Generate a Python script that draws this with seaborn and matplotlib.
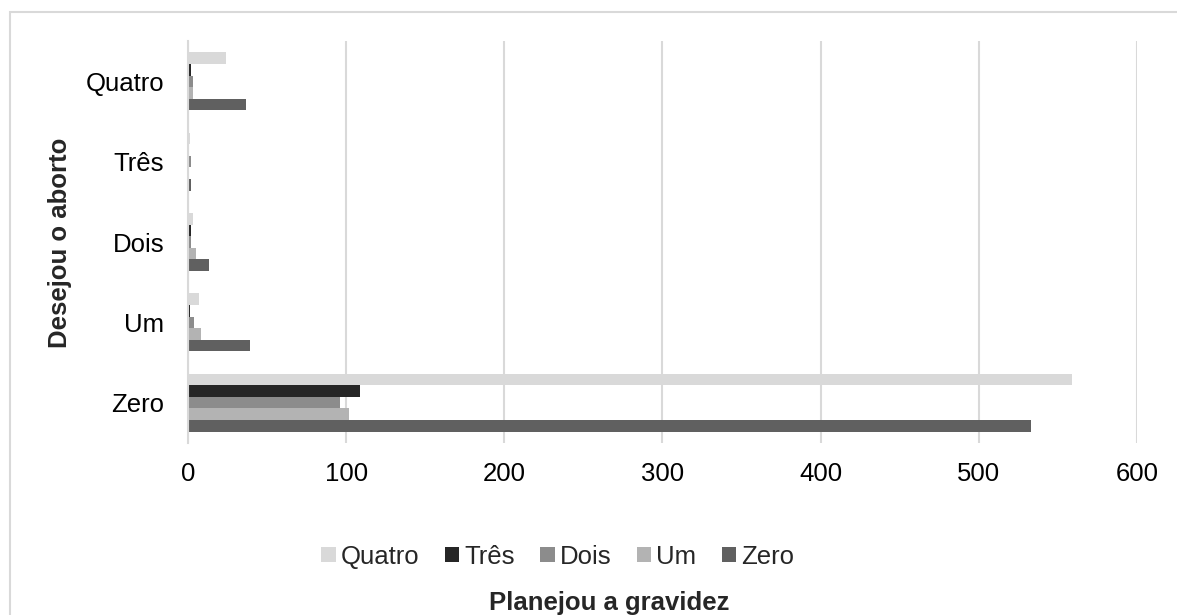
import pandas as pd
import seaborn as sns
import matplotlib.pyplot as plt
from matplotlib.patches import Rectangle

# Dados
categorias = ['Quatro', 'Três', 'Dois', 'Um', 'Zero']   # Desejou o aborto
series = ['Quatro', 'Três', 'Dois', 'Um', 'Zero']       # Planejou a gravidez
v_quatro = [24, 1, 3, 7, 559]
v_tres = [2, 0, 2, 1, 109]
v_dois = [3, 2, 2, 4, 96]
v_um = [3, 0, 5, 8, 102]
v_zero = [37, 2, 13, 39, 533]
xticks = [0, 100, 200, 300, 400, 500, 600]

cores = {'Quatro': '#d9d9d9', 'Três': '#262626', 'Dois': '#8c8c8c',
         'Um': '#b3b3b3', 'Zero': '#606060'}

valores = {'Quatro': v_quatro, 'Três': v_tres, 'Dois': v_dois,
           'Um': v_um, 'Zero': v_zero}
linhas = []
for s in series:
    for c, v in zip(categorias, valores[s]):
        linhas.append({'desejou': c, 'planejou': s, 'valor': v})
df = pd.DataFrame(linhas)

sns.set_style('white')
plt.rcParams['font.family'] = ['Liberation Sans', 'DejaVu Sans']
fontsize = 18.5
grid_color = '#d9d9d9'

fig = plt.figure(figsize=(11.77, 6.15), dpi=100)
ax = fig.add_axes([0.1597, 0.280, 0.8063, 0.653])

sns.barplot(data=df, x='valor', y='desejou', hue='planejou', order=categorias,
            hue_order=series, palette=cores, orient='h', width=0.72,
            saturation=1, linewidth=0, ax=ax)

ax.set_xlim(0, 600)
ax.set_ylim(4.5, -0.5)
ax.set_xticks(xticks)
ax.set_xticklabels([str(t) for t in xticks])
ax.set_axisbelow(True)
ax.grid(axis='x', color=grid_color, linewidth=1.5)
ax.grid(axis='y', visible=False)
for side in ['top', 'right', 'bottom']:
    ax.spines[side].set_visible(False)
ax.spines['left'].set_color(grid_color)
ax.spines['left'].set_linewidth(1.5)
ax.tick_params(axis='y', length=0, pad=17, labelsize=fontsize, colors='black')
ax.tick_params(axis='x', length=0, pad=14, labelsize=fontsize, colors='black')
ax.set_xlabel('')
ax.set_ylabel('')

handles, labels = ax.get_legend_handles_labels()
ax.legend_.remove()
fig.legend(handles, labels, loc='center', bbox_to_anchor=(0.474, 0.095), ncol=5,
           frameon=False, fontsize=fontsize, handlelength=0.55, handleheight=0.55,
           handletextpad=0.2, columnspacing=1.0)

fig.text(0.518, 0.0195, 'Planejou a gravidez', ha='center', va='center',
         fontsize=fontsize, fontweight='bold')
fig.text(0.051, 0.605, 'Desejou o aborto', ha='center', va='center',
         rotation=90, fontsize=fontsize, fontweight='bold')

# Moldura externa
fig.patches.append(Rectangle((10 / 1177, -0.05), 1.1, 1.05 - 12 / 615 + 0.0,
                             transform=fig.transFigure, fill=False,
                             edgecolor=grid_color, linewidth=1.5))

fig.savefig('out.png', dpi=100)
